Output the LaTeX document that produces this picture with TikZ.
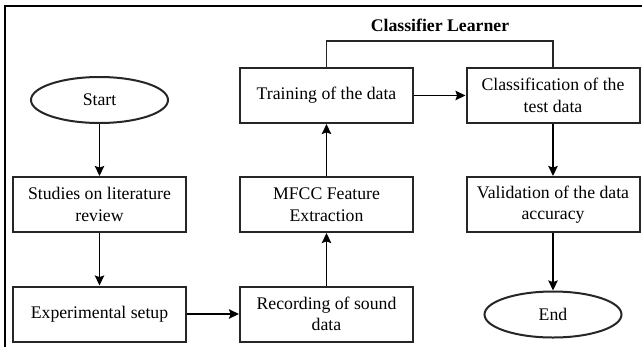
\documentclass[tikz,border=0pt]{standalone}
\usepackage{fontspec}
\setmainfont{Liberation Serif}
\usetikzlibrary{arrows.meta,shapes.geometric}
\begin{document}
\begin{tikzpicture}[x=0.75pt,y=-0.75pt,
  txt/.style={font=\fontsize{13.3}{16.2}\selectfont},
  box/.style={txt,draw=black!85,line width=1.5pt,minimum width=129.75pt,
    minimum height=41.25pt,align=center,inner sep=0pt},
  term/.style={txt,ellipse,draw=black!85,line width=1.5pt,minimum width=102.75pt,
    minimum height=34.5pt,inner sep=0pt},
  flow/.style={draw=black,line width=1.3pt,-{Stealth[length=7.5pt,width=7pt,inset=1.2pt]}},
  link/.style={draw=black!85,line width=1.3pt},
  frame/.style={draw=black,line width=2pt}]
\useasboundingbox (0,0) rectangle (642,347);

% outer frame (open at right and bottom)
\coordinate (f1) at (5,347);
\coordinate (f2) at (5,6);
\coordinate (f3) at (642,6);
\draw[frame] (f1) -- (f2) -- (f3);

% left column
\node[term] (start) at (99.5,100) {Start};
\node[box] (lit) at (99.5,204.5) {Studies on literature\\review};
\node[box] (exp) at (99.5,314) {Experimental setup};

% middle column
\node[box] (rec) at (326.5,314) {Recording of sound\\data};
\node[box] (mfcc) at (326.5,204.5) {MFCC Feature\\Extraction};
\node[box] (train) at (326.5,95.5) {Training of the data};

% right column
\node[box] (cls) at (553,95.5) {Classification of the\\test data};
\node[box] (val) at (553,204.5) {Validation of the data\\accuracy};
\node[term] (end) at (553,314.5) {End};

% classifier learner bracket
\node[font=\fontsize{13.3}{16.2}\selectfont\bfseries,anchor=base] (title) at (440,31) {Classifier Learner};
\coordinate (brk) at (440,41);
\draw[link] (train.north) |- (brk) -| (cls.north);

% flow arrows
\draw[flow] (start) -- (lit);
\draw[flow] (lit) -- (exp);
\draw[flow] (exp) -- (rec);
\draw[flow] (rec) -- (mfcc);
\draw[flow] (mfcc) -- (train);
\draw[flow] (train) -- (cls);
\draw[flow] (cls) -- (val);
\draw[flow] (val) -- (end);
\end{tikzpicture}
\end{document}
